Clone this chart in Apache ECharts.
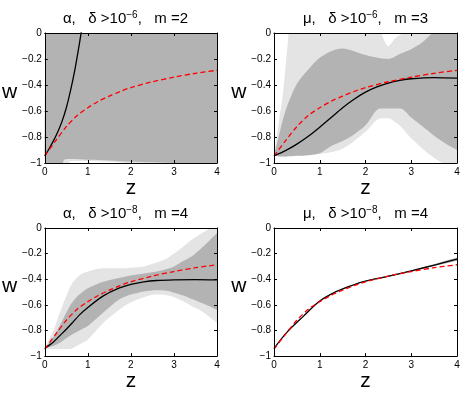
<!DOCTYPE html>
<html>
<head>
<meta charset="utf-8">
<script src="https://cdn.jsdelivr.net/npm/echarts@6/dist/echarts.min.js"></script>
<style>
  html, body { margin: 0; padding: 0; background: #fff; }
  #chart { width: 463px; height: 393px; }
</style>
</head>
<body>
<div id="chart"></div>
<script>
// ticks
const zTicks = [0, 1, 2, 3, 4];
const wTicks = [-1, -0.8, -0.6, -0.4, -0.2, 0];

// red dashed reference curve (same in all panels)
const zRed = [0, 0.25, 0.5, 0.75, 1, 1.25, 1.5, 1.75, 2, 2.5, 3, 3.5, 4];
const wRed = [-0.945, -0.83, -0.72, -0.635, -0.575, -0.525, -0.485, -0.45, -0.42, -0.375, -0.34, -0.31, -0.287];

// panel 1: alpha, m=2
const z1Line = [0, 0.1, 0.2, 0.3, 0.4, 0.5, 0.6, 0.7, 0.8, 0.9];
const w1Line = [-0.945, -0.89, -0.83, -0.762, -0.68, -0.575, -0.44, -0.28, -0.09, 0.12];
const z1Dark = [0, 0.05, 0.2, 0.4, 0.45, 0.6, 1, 1.5, 2, 2.5, 3, 3.5, 4];
const w1DarkLo = [-0.945, -1.05, -1.05, -1.02, -0.975, -0.97, -0.975, -0.98, -0.99, -0.995, -1.0, -1.0, -1.01];
const w1DarkHi = [-0.945, 0.1, 0.1, 0.1, 0.1, 0.1, 0.1, 0.1, 0.1, 0.1, 0.1, 0.1, 0.1];
const z1Light = [0.4, 0.5, 0.6, 1, 1.7, 2.5, 3.5];
const w1LightLo = [-1.05, -1.05, -0.985, -0.985, -0.995, -1.02, -1.02];
const w1LightHi = [-0.9, -0.9, -0.9, -0.9, -0.9, -0.9, -0.9];

// panel 2: mu, m=3
const z2Line = [0, 0.25, 0.5, 0.75, 1, 1.25, 1.5, 1.75, 2, 2.25, 2.5, 2.75, 3, 3.5, 4];
const w2Line = [-0.945, -0.905, -0.855, -0.795, -0.725, -0.65, -0.575, -0.51, -0.455, -0.415, -0.385, -0.365, -0.352, -0.343, -0.347];
const z2Dark = [0, 0.1, 0.25, 0.5, 0.75, 1, 1.25, 1.5, 1.75, 2, 2.32, 2.5, 2.76, 3, 3.25, 3.5, 3.75, 4];
const w2DarkLo = [-0.945, -0.95, -0.95, -0.945, -0.94, -0.925, -0.87, -0.83, -0.78, -0.71, -0.58, -0.58, -0.58, -0.65, -0.72, -0.79, -0.85, -0.9];
const w2DarkHi = [-0.945, -0.8, -0.6, -0.39, -0.28, -0.19, -0.14, -0.12, -0.14, -0.17, -0.195, -0.2, -0.16, -0.125, -0.07, 0.01, 0.05, 0.1];
const z2Light = [0, 0.1, 0.2, 0.3, 0.35, 0.5, 1, 1.5, 2, 2.3, 2.5, 2.65, 2.8, 3, 3.2, 3.4, 3.63, 3.8, 4];
const w2LightLo = [-0.945, -0.95, -0.95, -0.95, -0.945, -0.94, -0.93, -0.89, -0.76, -0.66, -0.655, -0.685, -0.73, -0.81, -0.875, -0.935, -0.99, -1.02, -1.05];
const w2LightHi = [-0.945, -0.7, -0.45, -0.08, 0.05, 0.1, 0.1, 0.1, 0.1, 0.02, -0.1, -0.04, -0.005, 0.03, 0.06, 0.1, 0.1, 0.1, 0.1];

// panel 3: alpha, m=4
const z3Line = [0, 0.2, 0.35, 0.5, 0.64, 0.8, 1, 1.36, 1.72, 2, 2.3, 2.6, 3, 3.5, 4];
const w3Line = [-0.94, -0.89, -0.84, -0.79, -0.74, -0.68, -0.62, -0.53, -0.47, -0.44, -0.42, -0.41, -0.405, -0.403, -0.405];
const z3Band = [0, 0.2, 0.35, 0.5, 0.64, 0.8, 1, 1.36, 1.72, 2, 2.3, 2.6, 2.83, 3, 3.2, 3.42, 3.6, 3.85, 4];
const w3DarkLo = [-0.94, -0.92, -0.895, -0.86, -0.83, -0.8, -0.765, -0.66, -0.56, -0.52, -0.495, -0.485, -0.49, -0.505, -0.525, -0.555, -0.58, -0.615, -0.64];
const w3DarkHi = [-0.94, -0.85, -0.76, -0.66, -0.58, -0.52, -0.47, -0.42, -0.39, -0.37, -0.355, -0.34, -0.32, -0.3, -0.26, -0.22, -0.17, -0.09, -0.04];
const w3LightLo = [-0.94, -0.945, -0.945, -0.945, -0.94, -0.91, -0.87, -0.74, -0.64, -0.58, -0.54, -0.52, -0.525, -0.54, -0.57, -0.61, -0.64, -0.7, -0.74];
const w3LightHi = [-0.94, -0.8, -0.66, -0.53, -0.43, -0.37, -0.34, -0.315, -0.315, -0.31, -0.3, -0.27, -0.24, -0.2, -0.15, -0.09, -0.05, 0, 0.04];

// panel 4: mu, m=4
const z4Line = [0, 0.28, 0.64, 1, 1.37, 1.73, 2, 2.46, 3, 3.55, 4];
const w4Line = [-0.94, -0.815, -0.69, -0.57, -0.495, -0.445, -0.415, -0.38, -0.335, -0.285, -0.243];
const w4BandLo = [-0.94, -0.817, -0.693, -0.573, -0.498, -0.448, -0.418, -0.384, -0.34, -0.293, -0.255];
const w4BandHi = [-0.94, -0.813, -0.687, -0.567, -0.492, -0.442, -0.412, -0.376, -0.33, -0.277, -0.231];

const titles = [
  ['α,   δ >10', '−6', ',   m =2'],
  ['μ,   δ >10', '−6', ',   m =3'],
  ['α,   δ >10', '−8', ',   m =4'],
  ['μ,   δ >10', '−8', ',   m =4']
];

const DARK = '#b3b3b3';
const LIGHT = '#e4e4e4';
const FONT = 'Liberation Sans, Arial, sans-serif';

const grids = [
  { left: 34, top: 33, width: 183, height: 130 },
  { left: 274, top: 33, width: 183, height: 130 },
  { left: 34, top: 228, width: 183, height: 131 },
  { left: 274, top: 228, width: 183, height: 131 }
];

function pts(z, w) {
  return z.map((v, i) => [v, w[i]]);
}

// bands: the value (w) goes in column 0 so that the stack works on w, not on z
function band(k, z, lo, hi, color, name, zz) {
  const common = {
    type: 'line', xAxisIndex: 2 * k, yAxisIndex: 2 * k, stack: name, stackStrategy: 'all',
    encode: { x: 1, y: 0 }, symbol: 'none', smooth: 0.3, silent: true, z: zz,
    lineStyle: { width: 0, opacity: 0 }
  };
  return [
    Object.assign({}, common, { data: z.map((v, i) => [lo[i], v]) }),
    Object.assign({}, common, {
      data: z.map((v, i) => [hi[i] - lo[i], v]),
      areaStyle: { color: color, opacity: 1 }
    })
  ];
}

function curve(k, z, w, color, dashed) {
  return {
    type: 'line', xAxisIndex: 2 * k, yAxisIndex: 2 * k,
    data: pts(z, w), symbol: 'none', smooth: 0.3, silent: true, z: dashed ? 6 : 5,
    lineStyle: { color: color, width: 1.3, type: dashed ? [5, 3] : 'solid' }
  };
}

function wLabel(v) {
  if (v === 0) return '0';
  return '−' + String(+Math.abs(v).toFixed(1));
}

const xAxis = [];
const yAxis = [];
grids.forEach((g, k) => {
  const tick = { show: true, inside: true, length: 3, lineStyle: { color: '#000', width: 1 } };
  const line = { show: true, onZero: false, lineStyle: { color: '#000', width: 1 } };
  xAxis.push({
    gridIndex: k, type: 'value', min: 0, max: 4, interval: 1, position: 'bottom', z: 10,
    axisLine: line, axisTick: tick, splitLine: { show: false },
    axisLabel: { color: '#000', fontSize: 10, margin: 4, fontFamily: FONT },
    name: 'z', nameLocation: 'middle', nameGap: 9,
    nameTextStyle: { color: '#000', fontSize: 21, fontFamily: FONT }
  });
  xAxis.push({
    gridIndex: k, type: 'value', min: 0, max: 4, interval: 1, position: 'top', z: 10,
    axisLine: line, axisTick: tick, splitLine: { show: false }, axisLabel: { show: false }
  });
  yAxis.push({
    gridIndex: k, type: 'value', min: -1, max: 0, interval: 0.2, position: 'left', z: 10,
    axisLine: line, axisTick: tick, splitLine: { show: false },
    axisLabel: { color: '#000', fontSize: 10, margin: 3, fontFamily: FONT, formatter: wLabel },
    name: 'w', nameLocation: 'middle', nameGap: 19, nameRotate: 0,
    nameTextStyle: { color: '#000', fontSize: 21, fontFamily: FONT, lineHeight: 12, verticalAlign: 'bottom' }
  });
  yAxis.push({
    gridIndex: k, type: 'value', min: -1, max: 0, interval: 0.2, position: 'right', z: 10,
    axisLine: line, axisTick: tick, splitLine: { show: false }, axisLabel: { show: false }
  });
});

const series = [].concat(
  band(0, z1Light, w1LightLo, w1LightHi, LIGHT, 'l0', 1),
  band(0, z1Dark, w1DarkLo, w1DarkHi, DARK, 'd0', 2),
  [curve(0, z1Line, w1Line, '#000', false), curve(0, zRed, wRed, '#ff0000', true)],

  band(1, z2Light, w2LightLo, w2LightHi, LIGHT, 'l1', 1),
  band(1, z2Dark, w2DarkLo, w2DarkHi, DARK, 'd1', 2),
  [curve(1, z2Line, w2Line, '#000', false), curve(1, zRed, wRed, '#ff0000', true)],

  band(2, z3Band, w3LightLo, w3LightHi, LIGHT, 'l2', 1),
  band(2, z3Band, w3DarkLo, w3DarkHi, DARK, 'd2', 2),
  [curve(2, z3Line, w3Line, '#000', false), curve(2, zRed, wRed, '#ff0000', true)],

  band(3, z4Line, w4BandLo, w4BandHi, DARK, 'd3', 2),
  [curve(3, z4Line, w4Line, '#000', false), curve(3, zRed, wRed, '#ff0000', true)]
);

const graphic = titles.map((t, k) => {
  const g = grids[k];
  return {
    type: 'text', x: g.left + g.width / 2, y: g.top - 14, silent: true,
    style: {
      text: '{a|' + t[0] + '}{s|' + t[1] + '}{a|' + t[2] + '}',
      align: 'center', verticalAlign: 'middle',
      rich: {
        a: { fontSize: 15, lineHeight: 18, fontFamily: FONT, fill: '#000', verticalAlign: 'middle' },
        s: { fontSize: 10, lineHeight: 10, fontFamily: FONT, fill: '#000', verticalAlign: 'top' }
      }
    }
  };
});

const myChart = echarts.init(document.getElementById('chart'), null, { renderer: 'canvas' });
myChart.setOption({
  backgroundColor: '#fff',
  animation: false,
  grid: grids,
  xAxis: xAxis,
  yAxis: yAxis,
  series: series,
  graphic: graphic
});
</script>
</body>
</html>
